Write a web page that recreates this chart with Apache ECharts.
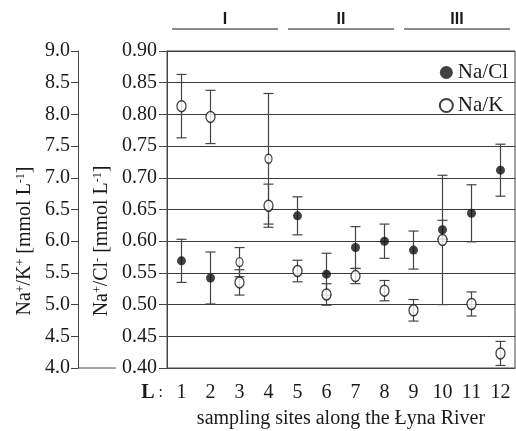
<!DOCTYPE html>
<html>
<head>
<meta charset="utf-8">
<script src="https://cdn.jsdelivr.net/npm/echarts@6/dist/echarts.min.js"></script>
<style>
  html, body { margin: 0; padding: 0; background: #fff; }
  #chart { width: 516px; height: 431px; }
</style>
</head>
<body>
<div id="chart"></div>
<script>
const sites = ['1', '2', '3', '4', '5', '6', '7', '8', '9', '10', '11', '12'];
const naCl = [0.569, 0.542, 0.567, 0.730, 0.640, 0.548, 0.590, 0.600, 0.586, 0.618, 0.644, 0.712];
const naClSd = [0.034, 0.041, 0.023, 0.103, 0.030, 0.033, 0.033, 0.027, 0.030, 0.015, 0.045, 0.041];
const naK = [8.13, 7.96, 5.35, 6.56, 5.53, 5.16, 5.45, 5.22, 4.91, 6.02, 5.01, 4.23];
const naKSd = [0.50, 0.42, 0.20, 0.34, 0.17, 0.17, 0.12, 0.16, 0.17, 1.02, 0.19, 0.19];
// Na/Cl markers drawn hollow in the original figure
const hollowClSites = ['3', '4'];
const zones = [
  { name: 'I', from: '1', to: '4' },
  { name: 'II', from: '5', to: '8' },
  { name: 'III', from: '9', to: '12' }
];

const serif = 'Liberation Serif';
const ink = '#1a1a1a';
const lineColor = '#444';

const chart = echarts.init(document.getElementById('chart'));

function errorBars(params, api) {
  const x = api.value(0);
  const lo = api.coord([x, api.value(1)]);
  const hi = api.coord([x, api.value(2)]);
  const w = 5;
  const style = { stroke: lineColor, lineWidth: 1.2 };
  return {
    type: 'group',
    children: [
      { type: 'line', shape: { x1: hi[0], y1: hi[1], x2: lo[0], y2: lo[1] }, style },
      { type: 'line', shape: { x1: hi[0] - w, y1: hi[1], x2: hi[0] + w, y2: hi[1] }, style },
      { type: 'line', shape: { x1: lo[0] - w, y1: lo[1], x2: lo[0] + w, y2: lo[1] }, style }
    ]
  };
}

const clBars = sites.map((s, i) => [i, naCl[i] - naClSd[i], naCl[i] + naClSd[i]]);
const kBars = sites.map((s, i) => [i, naK[i] - naKSd[i], naK[i] + naKSd[i]]);
const clPoints = sites.map((s, i) => hollowClSites.includes(s)
  ? { value: naCl[i], symbolSize: [7, 9], itemStyle: { color: '#fff', borderColor: '#111', borderWidth: 1.3 } }
  : naCl[i]);

chart.setOption({
  animation: false,
  grid: {
    left: 167, right: 1, top: 51, bottom: 63,
    outerBoundsMode: 'none',
    show: true, borderColor: lineColor, borderWidth: 1
  },
  legend: {
    orient: 'vertical',
    right: 3,
    top: 57,
    itemWidth: 13,
    itemHeight: 13,
    itemGap: 12,
    data: ['Na/Cl', 'Na/K'],
    textStyle: { fontFamily: serif, fontSize: 21, color: ink }
  },
  xAxis: {
    type: 'category',
    data: sites,
    boundaryGap: true,
    axisLine: { lineStyle: { color: lineColor } },
    axisTick: { inside: true, length: 5, lineStyle: { color: lineColor } },
    axisLabel: { interval: 0, margin: 15, fontFamily: serif, fontSize: 20, color: ink },
    name: 'sampling sites along the Łyna River',
    nameLocation: 'middle',
    nameGap: 41,
    nameTextStyle: { fontFamily: serif, fontSize: 20, color: ink }
  },
  yAxis: [
    {
      type: 'value',
      min: 0.4,
      max: 0.9,
      interval: 0.05,
      position: 'left',
      axisLine: { show: true, lineStyle: { color: lineColor } },
      axisTick: { show: true, length: 8, lineStyle: { color: lineColor } },
      axisLabel: { margin: 10, fontFamily: serif, fontSize: 20, color: ink, formatter: v => v.toFixed(2) },
      splitLine: { lineStyle: { color: '#3a3a3a', width: 1 } }
    },
    {
      type: 'value',
      min: 4,
      max: 9,
      interval: 0.5,
      position: 'left',
      offset: 89,
      axisLine: { show: true, lineStyle: { color: lineColor } },
      axisTick: { show: true, length: 7, lineStyle: { color: lineColor } },
      axisLabel: { margin: 8, fontFamily: serif, fontSize: 20, color: ink, formatter: v => v.toFixed(1) },
      splitLine: { show: false }
    }
  ],
  series: [
    { type: 'custom', name: 'Na/Cl sd', renderItem: errorBars, data: clBars, encode: { x: 0, y: [1, 2] }, yAxisIndex: 0, z: 1 },
    { type: 'custom', name: 'Na/K sd', renderItem: errorBars, data: kBars, encode: { x: 0, y: [1, 2] }, yAxisIndex: 1, z: 1 },
    {
      name: 'Na/Cl', type: 'scatter', yAxisIndex: 0, data: clPoints, symbol: 'circle', symbolSize: 9,
      itemStyle: { color: '#111' }, z: 3
    },
    {
      name: 'Na/K', type: 'scatter', yAxisIndex: 1, data: naK, symbol: 'circle', symbolSize: [9, 11],
      itemStyle: { color: '#fff', borderColor: '#111', borderWidth: 1.4 }, z: 3
    }
  ]
});

// decorations placed from the axes
const c1 = chart.convertToPixel({ xAxisIndex: 0 }, '1');
const c2 = chart.convertToPixel({ xAxisIndex: 0 }, '2');
const band = c2 - c1;
const yBottom = chart.convertToPixel({ yAxisIndex: 0 }, 0.4);
const graphics = [];
zones.forEach(z => {
  const x0 = chart.convertToPixel({ xAxisIndex: 0 }, z.from) - band / 2 + 5;
  const x1 = chart.convertToPixel({ xAxisIndex: 0 }, z.to) + band / 2 - 5;
  graphics.push({ type: 'line', shape: { x1: x0, y1: 29, x2: x1, y2: 29 }, style: { stroke: ink, lineWidth: 1 } });
  graphics.push({
    type: 'text', x: (x0 + x1) / 2, y: 20,
    style: { text: z.name, fontFamily: 'Liberation Sans Narrow, Liberation Sans', fontWeight: 'bold', fontSize: 16, fill: ink, align: 'center', verticalAlign: 'middle' }
  });
});
graphics.push({ type: 'line', shape: { x1: 78, y1: yBottom, x2: 116, y2: yBottom }, style: { stroke: lineColor, lineWidth: 1 } });
graphics.push({
  type: 'text', x: 163, y: yBottom + 25,
  style: {
    text: '{b|L}{n| :}', align: 'right', verticalAlign: 'middle',
    rich: {
      b: { fontFamily: serif, fontWeight: 'bold', fontSize: 20, fill: ink },
      n: { fontFamily: serif, fontSize: 16, fill: ink }
    }
  }
});
const supRich = {
  t: { fontFamily: serif, fontSize: 20, fill: ink },
  s: { fontFamily: serif, fontSize: 12, fill: ink, verticalAlign: 'top' }
};
graphics.push({
  type: 'text', x: 25, y: 241, rotation: Math.PI / 2,
  style: { text: '{t|Na}{s|+}{t|/K}{s|+}{t| [mmol L}{s|-1}{t|]}', align: 'center', verticalAlign: 'middle', rich: supRich }
});
graphics.push({
  type: 'text', x: 102, y: 241, rotation: Math.PI / 2,
  style: { text: '{t|Na}{s|+}{t|/Cl}{s|-}{t| [mmol L}{s|-1}{t|]}', align: 'center', verticalAlign: 'middle', rich: supRich }
});
chart.setOption({ graphic: graphics });
</script>
</body>
</html>
